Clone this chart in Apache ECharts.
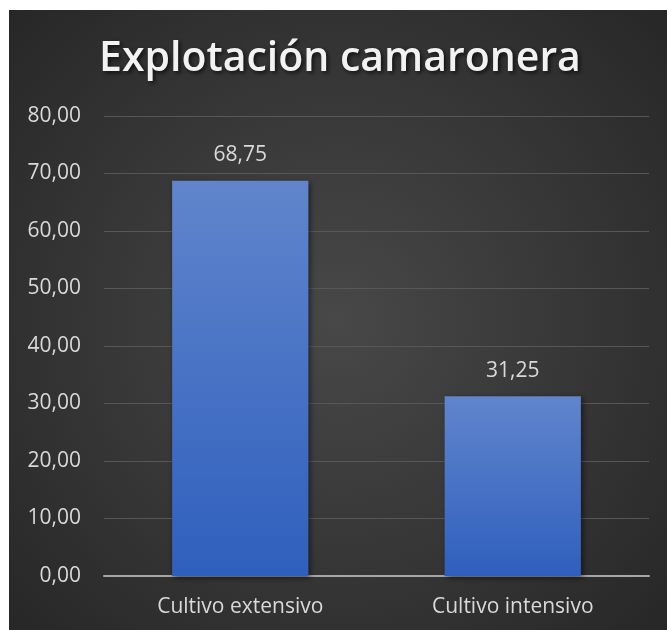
<!DOCTYPE html>
<html>
<head>
<meta charset="utf-8">
<script src="https://cdn.jsdelivr.net/npm/echarts@6/dist/echarts.min.js"></script>
<style>
html,body{margin:0;padding:0;background:#fff;}
#c{width:667px;height:630px;}
</style>
</head>
<body>
<div id="c"></div>
<script>
const titleText = 'Explotación camaronera';
const categories = ['Cultivo extensivo', 'Cultivo intensivo'];
const values = [68.75, 31.25];
const yMin = 0, yMax = 80, yStep = 10;

const fmt = v => Number(v).toFixed(2).replace('.', ',');

const chart = echarts.init(document.getElementById('c'), null, {renderer: 'canvas'});
chart.setOption({
  backgroundColor: '#ffffff',
  animation: false,
  graphic: [{
    type: 'rect',
    z: -10,
    silent: true,
    shape: {x: 9, y: 10, width: 658, height: 620},
    style: {
      fill: new echarts.graphic.RadialGradient(0.5, 0.5, 0.75, [
        {offset: 0, color: '#484848'},
        {offset: 1, color: '#262626'}
      ])
    }
  }],
  title: {
    text: titleText,
    left: 99,
    top: 39,
    padding: 0,
    textStyle: {
      fontFamily: 'Open Sans',
      fontWeight: 600,
      fontSize: 41,
      color: '#f2f2f2',
      textShadowColor: 'rgba(0,0,0,0.7)',
      textShadowBlur: 4,
      textShadowOffsetX: 2,
      textShadowOffsetY: 2
    }
  },
  grid: {left: 104, right: 18, top: 116, bottom: 54, containLabel: false},
  xAxis: {
    type: 'category',
    data: categories,
    axisLine: {show: true, lineStyle: {color: '#a6a6a6', width: 2}},
    axisTick: {show: false},
    axisLabel: {color: '#d9d9d9', fontFamily: 'Open Sans', fontSize: 21, margin: 21}
  },
  yAxis: {
    type: 'value',
    min: yMin, max: yMax, interval: yStep,
    axisLine: {show: false},
    axisTick: {show: false},
    splitLine: {lineStyle: {color: '#575757', width: 1}},
    axisLabel: {color: '#d9d9d9', fontFamily: 'Open Sans', fontSize: 21, margin: 23, formatter: fmt}
  },
  series: [{
    type: 'bar',
    data: values,
    barWidth: '50%',
    itemStyle: {
      color: new echarts.graphic.LinearGradient(0, 0, 0, 1, [
        {offset: 0, color: '#6085cc'},
        {offset: 1, color: '#2f5fbd'}
      ]),
      shadowColor: 'rgba(0,0,0,0.55)',
      shadowBlur: 6,
      shadowOffsetX: 2,
      shadowOffsetY: 2
    },
    label: {
      show: true,
      position: 'top',
      distance: 15,
      color: '#d9d9d9',
      fontFamily: 'Open Sans',
      fontSize: 21,
      formatter: p => fmt(p.value)
    }
  }]
});
</script>
</body>
</html>
